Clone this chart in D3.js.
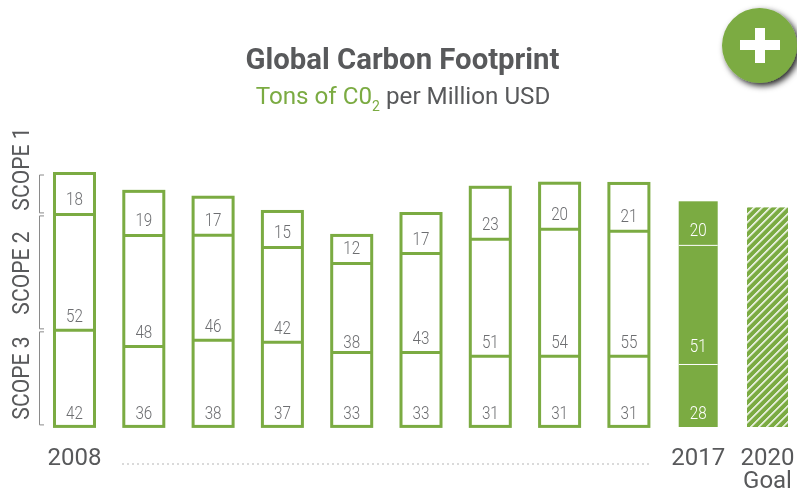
<!DOCTYPE html>
<html><head><meta charset="utf-8">
<script src="https://cdn.jsdelivr.net/npm/d3@7/dist/d3.min.js"></script>
<style>html,body{margin:0;padding:0;background:#fff}svg{display:block;opacity:.999}text{font-family:Roboto,sans-serif}</style>
</head><body><svg id="c" width="797" height="493"></svg>
<script>
const categories = ["2008","b","c","d","e","f","g","h","i","2017","2020"];
const scope3 = [42.5,35.4,38.1,37.2,32.7,32.7,31,31,31,27.4];
const scope2 = [51.3,49.1,46.5,42,39.4,43.8,51.8,56.2,55.3,52.7];
const scope1 = [18.1,19.5,16.8,15.9,12.4,17.7,23,20.4,21.2,19.5];
const scope3Labels = ["42","36","38","37","33","33","31","31","31","28"];
const scope2Labels = ["52","48","46","42","38","43","51","54","55","51"];
const scope1Labels = ["18","19","17","15","12","17","23","20","21","20"];
const goalTotal = 96.9;
const scopeNames = ["SCOPE 1","SCOPE 2","SCOPE 3"];
const yearLabels = [["2008",0],["2017",9],["2020",10]];

const GREEN="#7bab42", DARK="#58595b", LABEL="#6d6e71";
const svg=d3.select("#c");
const defs=svg.append("defs");
const pat=defs.append("pattern").attr("id","hatch").attr("width",5.66).attr("height",5.66)
  .attr("patternUnits","userSpaceOnUse").attr("patternTransform","rotate(45)");
pat.append("rect").attr("width",5.66).attr("height",5.66).attr("fill",GREEN);
pat.append("rect").attr("x",0).attr("width",1.5).attr("height",5.66).attr("fill","#fff");
const f=defs.append("filter").attr("id","sh").attr("x","-30%").attr("y","-30%").attr("width","170%").attr("height","170%");
f.append("feDropShadow").attr("dx",3).attr("dy",3).attr("stdDeviation",3).attr("flood-color","#000").attr("flood-opacity",0.85);

const x=d3.scalePoint().domain(categories).range([74.5,767.5]);
const y=d3.scaleLinear().domain([0,100]).range([426.4,200.4]);
const bw=40;

// title
svg.append("text").attr("x",402.5).attr("y",69).attr("text-anchor","middle")
  .attr("font-size",29.3).attr("font-weight",700).attr("fill",DARK).text("Global Carbon Footprint");
const sub=svg.append("text").attr("x",403).attr("y",104).attr("text-anchor","middle")
  .attr("font-size",24.2).attr("font-weight",400).attr("fill",DARK);
sub.append("tspan").attr("fill",GREEN).text("Tons of C0");
sub.append("tspan").attr("fill",GREEN).attr("font-size",14).attr("dy",7).text("2");
sub.append("tspan").attr("dy",-7).text(" per Million USD");

// plus button
const b=svg.append("g");
b.append("circle").attr("cx",759.5).attr("cy",45.5).attr("r",37.5).attr("fill",GREEN).attr("filter","url(#sh)");
b.append("rect").attr("x",740).attr("y",40).attr("width",40).attr("height",10).attr("fill","#fff");
b.append("rect").attr("x",755).attr("y",28).attr("width",10).attr("height",35).attr("fill","#fff");

// outline bars
const rows=d3.range(9);
const g=svg.append("g");
rows.forEach(i=>{
  const cx=x(categories[i]), a=scope3[i], c=a+scope2[i], t=c+scope1[i];
  g.append("rect").attr("x",cx-bw/2).attr("width",bw).attr("y",y(t)).attr("height",y(0)-y(t))
    .attr("fill","none").attr("stroke",GREEN).attr("stroke-width",3);
  [a,c].forEach(v=>g.append("line").attr("x1",cx-bw/2).attr("x2",cx+bw/2).attr("y1",y(v)).attr("y2",y(v))
    .attr("stroke",GREEN).attr("stroke-width",3));
});
// 2017 solid
{
  const i=9,cx=x(categories[i]),a=scope3[i],c=a+scope2[i],t=c+scope1[i];
  g.append("rect").attr("x",cx-19.5).attr("width",39).attr("y",y(t)).attr("height",y(0)-y(t)+0.6).attr("fill",GREEN);
  [a,c].forEach(v=>g.append("line").attr("x1",cx-19.5).attr("x2",cx+19.5).attr("y1",y(v)).attr("y2",y(v))
    .attr("stroke","#fff").attr("stroke-width",1));
}
// goal hatch
{
  const cx=x(categories[10]);
  g.append("rect").attr("x",cx-20.5).attr("width",41).attr("y",y(goalTotal)).attr("height",y(0)-y(goalTotal)+0.6).attr("fill","url(#hatch)");
}
// value labels
function lab(cx,yy,s,fill){
  svg.append("text").attr("transform",`translate(${cx},${yy}) scale(.8,1)`)
    .attr("text-anchor","middle").attr("font-size",19).attr("font-weight",300).attr("fill",fill).text(s);
}
d3.range(10).forEach(i=>{
  const cx=x(categories[i]), a=scope3[i], c=a+scope2[i], col=i===9?"#fff":LABEL;
  const nudge = i===4 ? 4 : i===9 ? -3.5 : 0;
  lab(cx,y(0)-7.5,scope3Labels[i],col);
  lab(cx,y(a)-8.5+nudge,scope2Labels[i],col);
  lab(cx,y(c)-9,scope1Labels[i],col);
});

// scope brackets
const bounds=[[scope3[0]+scope2[0]+scope1[0],scope3[0]+scope2[0]],[scope3[0]+scope2[0],scope3[0]],[scope3[0],0]];
bounds.forEach(([hi,lo])=>{
  const top=y(hi)+1.5, bot=y(lo)-1.5;
  svg.append("path").attr("d",`M44,${top}H39.5V${bot}H44`).attr("fill","none").attr("stroke","#8a8a8a").attr("stroke-width",1);
});
scopeNames.forEach((s,i)=>{
  const c=[169,273,378][i];
  svg.append("text").attr("transform",`translate(29,${c}) rotate(-90) scale(.92,1)`).attr("text-anchor","middle")
    .attr("font-size",23).attr("font-weight",400).attr("fill",DARK).text(s);
});

// years
yearLabels.forEach(([s,i])=>{
  svg.append("text").attr("x",x(categories[i])).attr("y",465).attr("text-anchor","middle")
    .attr("font-size",24).attr("font-weight",400).attr("fill",DARK).text(s);
});
svg.append("text").attr("x",767.5).attr("y",487.5).attr("text-anchor","middle")
  .attr("font-size",24).attr("font-weight",400).attr("fill",DARK).text("Goal");
svg.append("line").attr("x1",122).attr("x2",650).attr("y1",464).attr("y2",464)
  .attr("stroke","#b5b5b5").attr("stroke-width",1.2).attr("stroke-dasharray","2 3");
</script></body></html>
